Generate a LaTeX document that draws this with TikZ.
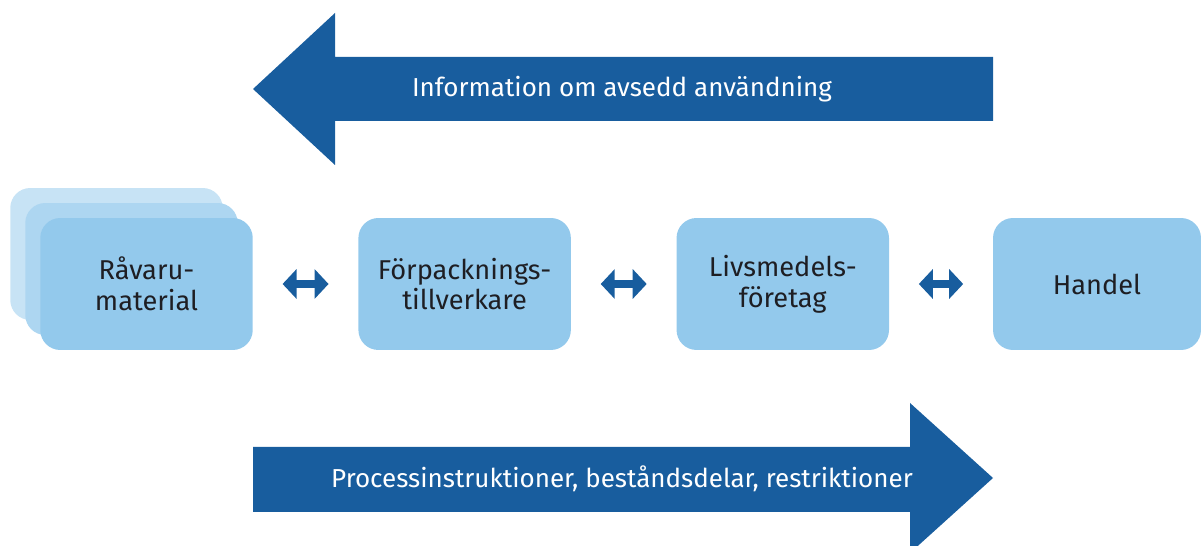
\documentclass[tikz,border=0pt]{standalone}
\usepackage{fontspec}
\setmainfont{Fira Sans}
\usetikzlibrary{positioning, arrows.meta}
\definecolor{darkblue}{RGB}{24,93,158}
\definecolor{boxblue}{RGB}{147,201,236}
\definecolor{midblue}{RGB}{173,214,241}
\definecolor{paleblue}{RGB}{199,227,245}
\definecolor{boxtext}{RGB}{30,30,35}

\begin{document}
\begin{tikzpicture}[x=0.02cm,y=-0.02cm,
                  actor/.style={rectangle,fill=boxblue,rounded corners=0.4cm,
                    minimum width=4.25cm,minimum height=2.64cm,inner sep=0pt,
                    text=boxtext,align=center,font=\fontsize{15.5}{17.5}\selectfont},
                  shadow/.style={rectangle,rounded corners=0.4cm,
                    minimum width=4.25cm,minimum height=2.64cm,inner sep=0pt},
                  flow/.style={fill=darkblue},
                  flowtext/.style={text=white,font=\fontsize{14.8}{17}\selectfont},
                  link/.style={{Triangle[length=2.8mm,width=5.8mm]}-{Triangle[length=2.8mm,width=5.8mm]},
                    draw=darkblue,line width=1.7mm,shorten <=5.9mm,shorten >=5.9mm}
                  ]
                  \useasboundingbox (0,0) rectangle (1201,546);

                  % information flow backwards
                  \fill[flow] (253,89) -- (335,13) -- (335,57) -- (993,57)
                    -- (993,121) -- (335,121) -- (335,165) -- cycle;
                  \node[flowtext] (info) at (622,89) {Information om avsedd användning};

                  % the chain
                  \node[shadow,fill=paleblue] (rav2) at (116.5,254) {};
                  \node[shadow,fill=midblue] (rav1) at (131.5,269) {};
                  \node[actor] (rav) at (146.5,284) {Råvaru-\\material};
                  \node[actor] (forp) [right=2.1cm of rav] {Förpacknings-\\tillverkare};
                  \node[actor] (livs) [right=2.1cm of forp] {Livsmedels-\\företag};
                  \node[actor,minimum width=4.16cm] (handel) at (1097,284) {Handel};

                  \draw[link] (rav) -- (forp);
                  \draw[link] (forp) -- (livs);
                  \draw[link] (livs) -- (handel);

                  % instructions forwards
                  \fill[flow] (993,478) -- (910,403) -- (910,447) -- (253,447)
                    -- (253,512) -- (910,512) -- (910,553) -- cycle;
                  \node[flowtext] (instr) at (622,479) {Processinstruktioner, beståndsdelar, restriktioner};
                \end{tikzpicture}
\end{document}
